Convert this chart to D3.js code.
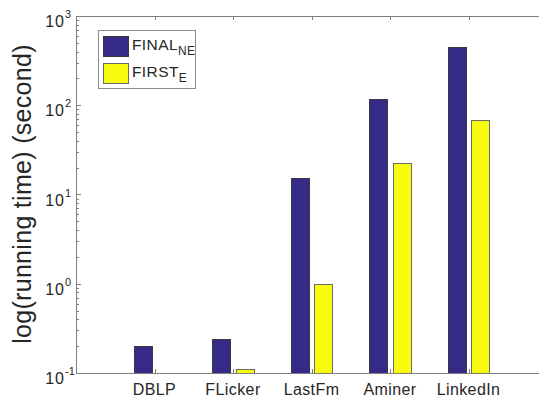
<!DOCTYPE html>
<html lang="en">
<head>
<meta charset="utf-8">
<script src="https://d3js.org/d3.v7.min.js"></script>
<style type="text/css">
body { margin: 0; background: #fff; }
svg text { font-family: "Liberation Sans", Arial, sans-serif; fill: #262626; }
</style>
</head>
<body>
<div id="chart"></div>
<script type="text/javascript">

// chart data
var datasets = ["DBLP", "FLicker", "LastFm", "Aminer", "LinkedIn"];
var finalNE = [0.2, 0.24, 15.4, 117, 446];
var firstE = [0.08, 0.111, 0.99, 22.5, 68];
var yTicks = [0.1, 1, 10, 100, 1000];
var yTickExp = ["-1", "0", "1", "2", "3"];

var width = 539, height = 397;
var plotLeft = 76, plotTop = 16, plotBottom = 373;

var svg = d3.select("#chart").append("svg")
  .attr("width", width)
  .attr("height", height);

// x: groups at 1..5, xlim [0, 6]
var x = d3.scaleLinear().domain([0, 6]).range([plotLeft, plotLeft + 6 * 78.5]);
var y = d3.scaleLog().domain([0.1, 1000]).range([plotBottom, plotTop]);

var axisCol = "#7f7f7f";
var barW = 0.23, off = 0.147;

// bars
var series = [
  { name: "FINAL", sub: "NE", vals: finalNE, fill: "#352a87", edge: "#3a3a3a", dx: -off },
  { name: "FIRST", sub: "E", vals: firstE, fill: "#f9fb0e", edge: "#6b6b6b", dx: off }
];

series.forEach(function(s) {
  svg.append("g").selectAll("rect")
    .data(s.vals.map(function(v, i) { return { v: v, i: i }; }).filter(function(d) { return d.v > 0.1; }))
    .enter().append("rect")
    .attr("x", function(d) { return Math.round(x(d.i + 1 + s.dx - barW / 2)) + 0.5; })
    .attr("width", function(d) { return Math.round(x(barW) - x(0)); })
    .attr("y", function(d) { return Math.round(y(d.v)) + 0.5; })
    .attr("height", function(d) { return plotBottom - Math.round(y(d.v)); })
    .style("fill", s.fill)
    .style("stroke", s.edge)
    .style("stroke-width", 1);
});

// frame
svg.append("line").attr("x1", plotLeft).attr("x2", width).attr("y1", plotTop + 0.5).attr("y2", plotTop + 0.5)
  .style("stroke", axisCol);
svg.append("line").attr("x1", plotLeft).attr("x2", width).attr("y1", plotBottom + 0.5).attr("y2", plotBottom + 0.5)
  .style("stroke", axisCol);
svg.append("line").attr("x1", plotLeft + 0.5).attr("x2", plotLeft + 0.5).attr("y1", plotTop).attr("y2", plotBottom)
  .style("stroke", axisCol);

// minor + major y ticks (inside)
var allTicks = y.ticks();
svg.append("g").selectAll("line")
  .data(allTicks)
  .enter().append("line")
  .attr("x1", plotLeft)
  .attr("x2", function(d) { return yTicks.indexOf(d) >= 0 ? plotLeft + 5 : plotLeft + 3; })
  .attr("y1", function(d) { return Math.round(y(d)) + 0.5; })
  .attr("y2", function(d) { return Math.round(y(d)) + 0.5; })
  .style("stroke", axisCol);

// y tick labels 10^n
svg.append("g").selectAll("text")
  .data(yTicks)
  .enter().append("text")
  .attr("x", plotLeft - 11)
  .attr("y", function(d) { return y(d) + 11; })
  .attr("text-anchor", "end")
  .style("font-size", "16px")
  .style("letter-spacing", "1px")
  .text("10");
svg.append("g").selectAll("text")
  .data(yTicks)
  .enter().append("text")
  .attr("x", plotLeft - 11)
  .attr("y", function(d) { return y(d) + 2; })
  .style("font-size", "11px")
  .text(function(d, i) { return yTickExp[i]; });

// x ticks (bottom and top, inside)
svg.append("g").selectAll("line")
  .data(datasets)
  .enter().append("line")
  .attr("x1", function(d, i) { return Math.round(x(i + 1)) + 0.5; })
  .attr("x2", function(d, i) { return Math.round(x(i + 1)) + 0.5; })
  .attr("y1", plotBottom).attr("y2", plotBottom - 4)
  .style("stroke", axisCol);
svg.append("g").selectAll("line")
  .data(datasets)
  .enter().append("line")
  .attr("x1", function(d, i) { return Math.round(x(i + 1)) + 0.5; })
  .attr("x2", function(d, i) { return Math.round(x(i + 1)) + 0.5; })
  .attr("y1", plotTop).attr("y2", plotTop + 4)
  .style("stroke", axisCol);

svg.append("g").selectAll("text")
  .data(datasets)
  .enter().append("text")
  .attr("x", function(d, i) { return x(i + 1); })
  .attr("y", 395)
  .attr("text-anchor", "middle")
  .style("font-size", "16px")
  .style("letter-spacing", "0.4px")
  .text(function(d) { return d; });

// y label
svg.append("text")
  .attr("transform", "translate(31,194) rotate(-90)")
  .attr("text-anchor", "middle")
  .style("font-size", "25px")
  .style("letter-spacing", "0.3px")
  .text("log(running time) (second)");

// legend
var lg = svg.append("g");
lg.append("rect")
  .attr("x", 98.5).attr("y", 30.5).attr("width", 97).attr("height", 58)
  .style("fill", "#fff").style("stroke", "#8c8c8c");
series.forEach(function(s, i) {
  var yy = 36 + i * 27;
  lg.append("rect")
    .attr("x", 103.5).attr("y", yy + 0.5).attr("width", 25).attr("height", 20)
    .style("fill", s.fill).style("stroke", s.edge);
  var t = lg.append("text")
    .attr("x", 132).attr("y", yy + 14)
    .style("font-size", "15.5px")
    .style("letter-spacing", "0.4px");
  t.append("tspan").text(s.name);
  t.append("tspan").attr("dy", 5).style("font-size", "12px").text(s.sub);
});

</script>
</body>
</html>
